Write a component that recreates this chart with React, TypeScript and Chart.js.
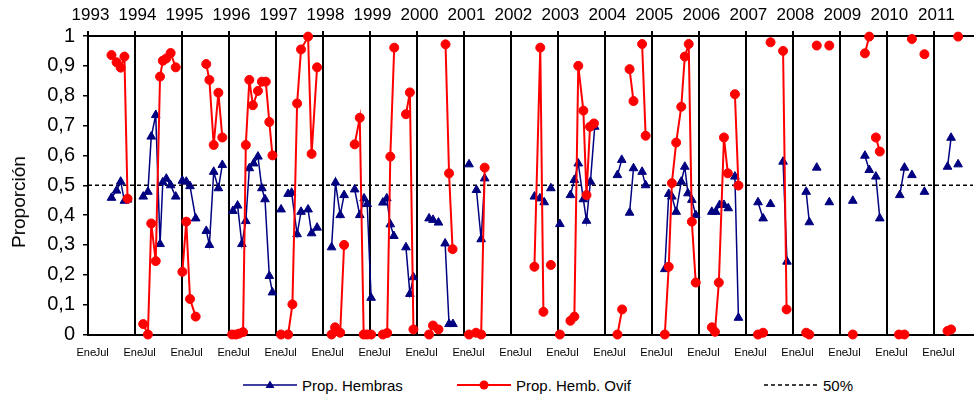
import React, { useEffect, useRef } from 'react';
import { Chart, registerables } from 'chart.js';

Chart.register(...registerables);

const FONT = '"Liberation Sans", Arial, sans-serif';
const NAVY = '#000080';
const RED = '#ff0000';

// Year labels on the top axis (each year starts at month 12*k from Jan 1993)
const yearLabels = ['1993', '1994', '1995', '1996', '1997', '1998', '1999', '2000', '2001', '2002',
  '2003', '2004', '2005', '2006', '2007', '2008', '2009', '2010', '2011'];
const monthLabels = ['Ene', 'Jul'];
const yTickLabels = ['0', '0,1', '0,2', '0,3', '0,4', '0,5', '0,6', '0,7', '0,8', '0,9', '1'];
const referenceLevel = 0.5;
const axisMonths = 226; // months shown, counted from January 1993

// Prop. Hembras: sampling month (from Jan 1993) and value; null = break in the line
const hembrasMonths = [
  6.0, 7.3, 8.35, 9.3, 10.1, 12,
  14.1, 15.3, 16.15, 17.3, 18.4, 19.1, 20.0, 21.1, 22.4, 23.3,
  24.1, 25.1, 26.05, 27.5, 29, 30.2, 31.0, 32.1, 33.3, 34.3, 35.6,
  37.0, 38.2, 39.3, 40.3, 41.2, 42.3, 43.4, 44.4, 45.2, 46.3, 47.1, 48.2,
  49.3, 50.2, 51.1, 52.0, 53.4, 54.4, 56.2, 57.1, 58.5, 60,
  62.2, 63.2, 64.4, 65.4, 66.8, 68.1, 69.4, 70.5, 71.3, 72.3, 73.8,
  75.3, 76.3, 77.2, 78.1, 79.7, 81.2, 82.2, 83.1, 85,
  87.1, 88.1, 89.5, 90.3, 91.2, 92.2, 93.2, 95,
  97.3, 98.2, 99.2, 100.4, 101.3, 107,
  114.0, 115.4, 116.5, 117.3, 118.2, 119.3,
  120.5, 122, 123.2, 124.2, 125.2, 126.5, 127.3, 128.3, 129.4, 132,
  135.2, 136.3, 137.3, 138.3, 139.3, 140.4, 141.5, 142.4, 145,
  147.3, 148.3, 149.1, 150.2, 151.5, 152.4, 153.2, 154.2, 155.2, 157,
  159.3, 160.3, 161.3, 162.4, 163.5, 164.3, 165.2, 166.1, 168,
  171.1, 172.4, 173.3, 174.3, 176, 177.5, 178.5, 181,
  183.4, 184.2, 185, 186.1, 188, 189.3, 192,
  195.3, 197, 198.4, 199.5, 200.3, 201.2, 202.2, 205,
  207.3, 208.5, 209.5, 210.4, 212, 213.6, 217,
  219.5, 220.4, 221.3, 222.2,
];
const hembras = [
  0.458, 0.482, 0.512, 0.448, 0.452, null,
  0.462, 0.478, 0.663, 0.735, 0.303, 0.51, 0.522, 0.50, 0.462, null,
  0.515, 0.512, 0.497, 0.389, null, 0.347, 0.300, 0.545, 0.49, 0.568, null,
  0.414, 0.432, 0.303, 0.38, 0.557, 0.573, 0.596, 0.49, 0.453, 0.196, 0.141, null,
  0.419, null, 0.471, 0.475, 0.336, 0.411, 0.419, 0.339, 0.358, null,
  0.292, 0.509, 0.40, 0.467, null, 0.486, 0.40, 0.456, 0.437, 0.123, null,
  0.442, 0.456, 0.369, 0.33, null, 0.292, 0.136, 0.192, null,
  0.389, 0.384, 0.375, null, 0.305, 0.035, 0.035, null,
  0.570, null, 0.484, 0.319, 0.523, null,
  0.462, 0.456, 0.443, null, 0.49, null,
  0.37, null, 0.467, 0.518, 0.573, 0.453, 0.381, 0.512, 0.696, null,
  0.534, 0.585, null, 0.408, 0.557, null, 0.545, 0.50, null,
  0.219, 0.471, 0.462, 0.411, 0.512, 0.562, 0.473, 0.451, 0.40, null,
  0.411, 0.411, 0.434, 0.434, 0.423, null, 0.529, 0.056, null,
  0.443, 0.389, null, 0.437, null, 0.579, 0.244, null,
  0.478, 0.376, null, 0.559, null, 0.443, null,
  0.448, null, 0.599, 0.551, null, 0.529, 0.389, null,
  0.467, 0.559, null, 0.534, null, 0.478, null,
  0.562, 0.659, null, 0.57,
];

// Prop. Hemb. Ovif
const ovifMonths = [
  6.0, 7.3, 8.35, 9.3, 10.1, 12,
  14.1, 15.3, 16.15, 17.3, 18.4, 19.1, 20.0, 21.1, 22.4, 23.3,
  24.1, 25.1, 26.05, 27.5, 29, 30.2, 31.0, 32.1, 33.3, 34.3, 35.6,
  36.8, 37.8, 38.6, 39.6, 40.3, 41.2, 42.1, 43.4, 44.4, 45.4, 46.3, 47.1, 48.2,
  49.3, 50.2, 51.1, 52.2, 53.4, 54.4, 56.2, 57.1, 58.5, 60,
  62.2, 63.1, 64.4, 65.4, 66.8, 68.1, 69.4, 70.4, 71.3, 72.3, 73.8,
  75.3, 76.4, 77.2, 78.2, 79.7, 81.2, 82.2, 83.1, 85,
  87.1, 88.1, 89.5, 90.3, 91.3, 92.2, 93.1, 95,
  97.3, 98.2, 99.1, 100.4, 101.3, 107,
  114.0, 115.5, 116.3, 117.3, 118.2, 119.3,
  120.5, 122, 123.2, 124.2, 125.2, 126.5, 127.3, 128.2, 129.2, 132,
  135.2, 136.4, 137.3, 138.3, 139.3, 140.4, 141.5, 142.4, 145,
  147.3, 148.3, 149.1, 150.2, 151.5, 152.4, 153.4, 154.2, 155.2, 157,
  159.3, 160.1, 161.1, 162.4, 163.4, 164.3, 165.2, 166.1, 168,
  171.1, 172.4, 173.3, 174.3, 176, 177.5, 178.4, 181,
  183.4, 184.2, 185, 186.1, 188, 189.3, 192,
  195.3, 197, 198.4, 199.5, 200.3, 201.2, 202.2, 205,
  207.1, 208.5, 209.5, 210.4, 212, 213.6, 217,
  219.5, 220.4, 221.3, 222.2,
];
const ovif = [
  0.936, 0.912, 0.894, 0.931, 0.455, null,
  0.035, 0, 0.372, 0.246, 0.864, 0.917, 0.925, 0.943, 0.895, null,
  0.21, 0.378, 0.119, 0.06, null, 0.906, 0.853, 0.635, 0.81, 0.66, null,
  0, 0, 0.003, 0.008, 0.635, 0.853, 0.768, 0.816, 0.847, 0.847, 0.712, 0.60, null,
  0, null, 0, 0.101, 0.774, 0.955, 0.998, 0.605, 0.895, null,
  0, 0.024, 0.006, 0.30, null, 0.637, 0.726, 0, 0, 0, null,
  0, 0.005, 0.596, 0.961, null, 0.738, 0.811, 0.017, null,
  0, 0.03, 0.017, null, 0.972, 0.54, 0.286, null,
  0, null, 0.006, 0, 0.559, null,
  0.227, 0.961, 0.076, null, 0.233, null,
  0, null, 0.046, 0.06, 0.90, 0.75, 0.467, 0.696, 0.707, null,
  0, 0.084, null, 0.889, 0.782, null, 0.973, 0.666, null,
  0, 0.227, 0.507, 0.643, 0.763, 0.931, 0.973, 0.378, 0.174, null,
  0.024, 0.009, 0.174, 0.66, 0.54, null, 0.805, 0.499, null,
  0, 0.006, null, 0.979, null, 0.95, 0.084, null,
  0.006, 0, null, 0.968, null, 0.968, null,
  0, null, 0.942, 0.998, null, 0.66, 0.613, null,
  0, 0, null, 0.99, null, 0.939, null,
  0.012, 0.017, null, 0.998,
];

const toPoints = (xs: number[], ys: (number | null)[]) => xs.map((x, i) => ({ x, y: ys[i] }));

export default function App() {
  const ref = useRef<HTMLCanvasElement>(null);

  useEffect(() => {
    const canvas = ref.current;
    if (!canvas) return;
    const monthTickValues: number[] = [];
    const monthTickText: string[] = [];
    yearLabels.forEach((_, k) => {
      monthTickValues.push(12 * k - 0.45, 12 * k + 3.5);
      monthTickText.push(monthLabels[0], monthLabels[1]);
    });

    const chart = new Chart(canvas, {
      type: 'line',
      data: {
        datasets: [
          {
            label: 'Prop. Hembras',
            data: toPoints(hembrasMonths, hembras) as any,
            borderColor: NAVY,
            backgroundColor: NAVY,
            borderWidth: 1.5,
            pointStyle: 'triangle',
            pointRadius: 5,
            pointBorderWidth: 1,
            pointBorderColor: NAVY,
            pointBackgroundColor: NAVY,
            spanGaps: false,
            clip: false as any,
            order: 2,
          },
          {
            label: 'Prop. Hemb. Ovif',
            data: toPoints(ovifMonths, ovif) as any,
            borderColor: RED,
            backgroundColor: RED,
            borderWidth: 2,
            pointStyle: 'circle',
            pointRadius: 4.5,
            pointBorderWidth: 1,
            pointBorderColor: RED,
            pointBackgroundColor: RED,
            spanGaps: false,
            clip: false as any,
            order: 1,
          },
          {
            label: '50%',
            data: [{ x: 0, y: referenceLevel }, { x: axisMonths, y: referenceLevel }],
            borderColor: '#000',
            borderWidth: 1.5,
            borderDash: [4, 3],
            pointRadius: 0,
            order: 3,
          },
        ],
      },
      options: {
        responsive: false,
        animation: false,
        devicePixelRatio: 1,
        layout: { padding: 0 },
        plugins: { legend: { display: false }, tooltip: { enabled: false } },
        scales: {
          x: {
            type: 'linear',
            position: 'bottom',
            min: 0,
            max: axisMonths,
            afterBuildTicks: (s: any) => {
              s.ticks = monthTickValues.map((v) => ({ value: v }));
            },
            afterFit: (s: any) => {
              s.height = 27.5;
            },
            ticks: {
              autoSkip: false,
              maxRotation: 0,
              minRotation: 0,
              padding: 12,
              color: '#000',
              font: { size: 11, family: FONT },
              callback: (_v: any, i: number) => monthTickText[i],
            },
            grid: { display: false, drawTicks: false },
            border: { display: true, color: '#000', width: 2 },
          },
          xTop: {
            type: 'linear',
            position: 'top',
            min: 0,
            max: axisMonths,
            afterBuildTicks: (s: any) => {
              s.ticks = yearLabels.map((_, k) => ({ value: 12 * k }));
            },
            afterFit: (s: any) => {
              s.height = 36;
            },
            ticks: {
              autoSkip: false,
              maxRotation: 0,
              minRotation: 0,
              padding: 5,
              labelOffset: 2.5,
              color: '#000',
              font: { size: 17, family: FONT },
              callback: (_v: any, i: number) => yearLabels[i],
            },
            grid: { display: true, color: '#000', lineWidth: 2, drawOnChartArea: true, drawTicks: true, tickLength: 5 },
            border: { display: true, color: '#000', width: 2 },
          },
          y: {
            type: 'linear',
            min: 0,
            max: 1,
            afterFit: (s: any) => {
              s.width = 88;
            },
            ticks: {
              stepSize: 0.1,
              padding: 8,
              color: '#000',
              font: { size: 20, family: FONT },
              callback: (_v: any, i: number) => yTickLabels[i],
            },
            grid: { display: true, drawOnChartArea: false, drawTicks: true, tickLength: 5, color: '#000', lineWidth: 1.5 },
            border: { display: true, color: '#000', width: 2 },
          },
        },
      } as any,
    });
    return () => chart.destroy();
  }, []);

  const legendText: React.CSSProperties = { fontFamily: FONT, fontSize: 15, color: '#000', marginLeft: 5, whiteSpace: 'nowrap' };
  const item = (left: number): React.CSSProperties => ({
    position: 'absolute', left, top: 375, height: 20, display: 'flex', alignItems: 'center',
  });

  return (
    <div style={{ position: 'absolute', left: 0, top: 0, width: 979, height: 400, background: '#fff', overflow: 'hidden' }}>
      <canvas ref={ref} width={979} height={362} style={{ display: 'block', width: 979, height: 362 }} />
      <div
        style={{
          position: 'absolute', left: 19, top: 202, transform: 'translate(-50%, -50%) rotate(-90deg)',
          fontFamily: FONT, fontSize: 19, color: '#000', whiteSpace: 'nowrap',
        }}
      >
        Proporción
      </div>
      <div style={item(243)}>
        <svg width="54" height="12">
          <line x1="0" y1="6" x2="54" y2="6" stroke={NAVY} strokeWidth="1.5" />
          <polygon points="27,1.5 31.5,9 22.5,9" fill={NAVY} />
        </svg>
        <span style={legendText}>Prop. Hembras</span>
      </div>
      <div style={item(457)}>
        <svg width="54" height="12">
          <line x1="0" y1="6" x2="54" y2="6" stroke={RED} strokeWidth="2" />
          <circle cx="27" cy="6" r="4.5" fill={RED} />
        </svg>
        <span style={legendText}>Prop. Hemb. Ovif</span>
      </div>
      <div style={item(764)}>
        <svg width="54" height="12">
          <line x1="0" y1="6" x2="54" y2="6" stroke="#000" strokeWidth="1.5" strokeDasharray="4 3" />
        </svg>
        <span style={legendText}>50%</span>
      </div>
    </div>
  );
}
